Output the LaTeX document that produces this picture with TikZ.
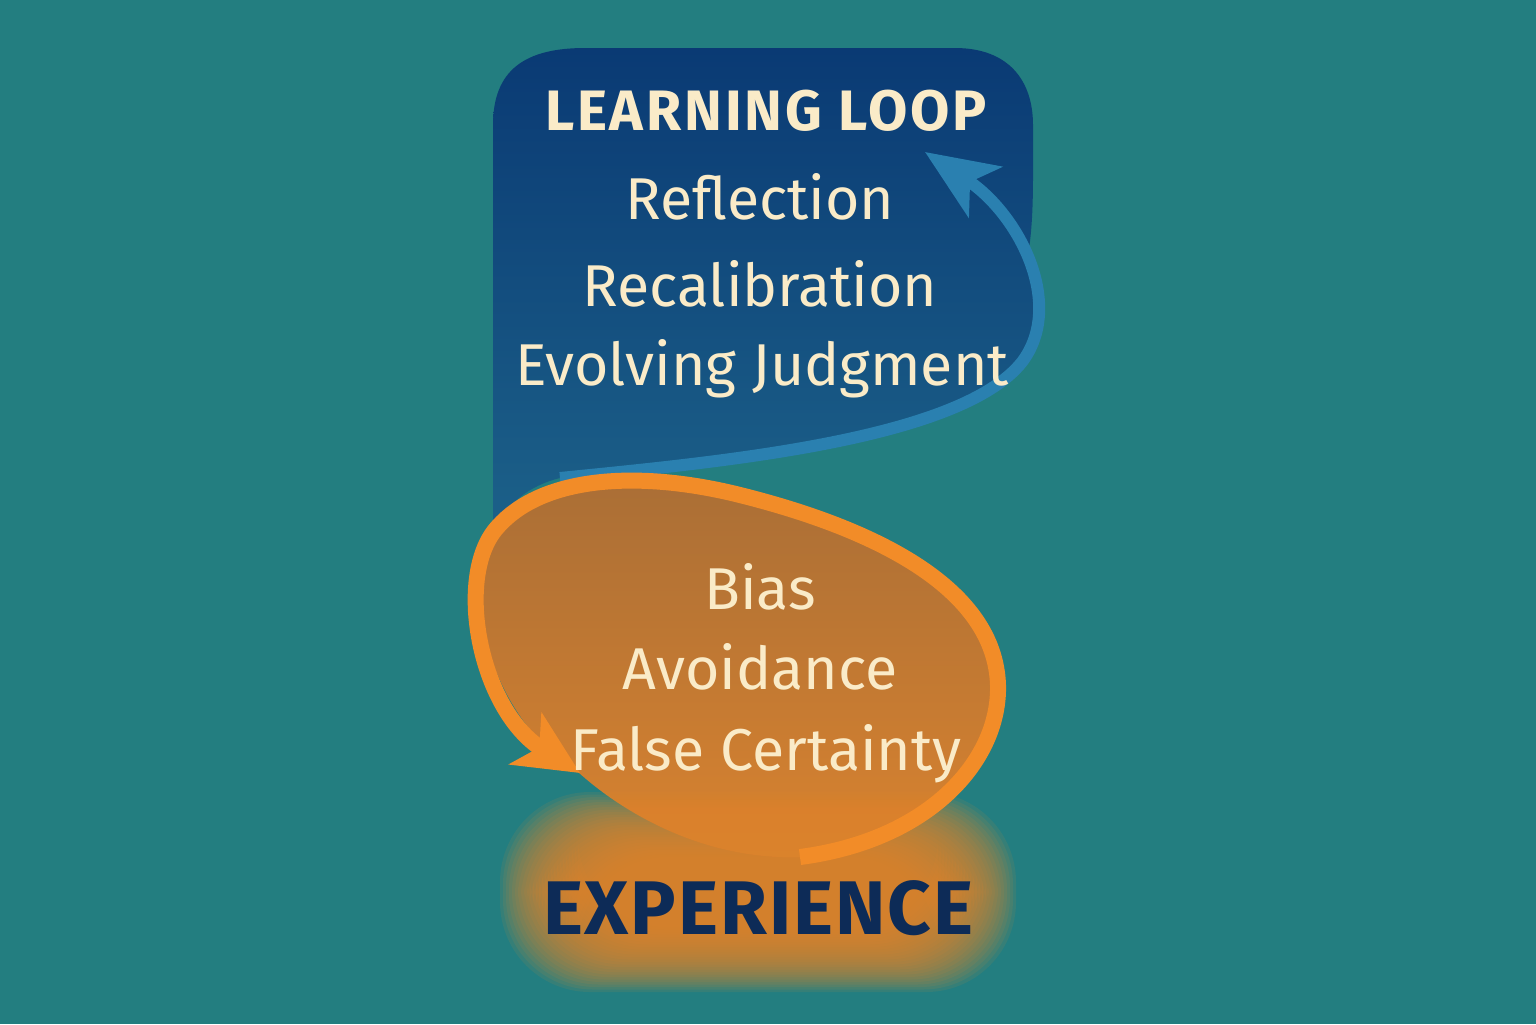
\documentclass[tikz,border=0pt]{standalone}
\usepackage{fontspec}
\setmainfont{Fira Sans}
\usetikzlibrary{arrows.meta}
\definecolor{bgteal}{HTML}{237E80}
\definecolor{bluetop}{HTML}{0A3A74}
\definecolor{bluebot}{HTML}{1C6189}
\definecolor{arrowblue}{HTML}{2A80B0}
\definecolor{loopor}{HTML}{F28C28}
\definecolor{blobtop}{HTML}{A96E36}
\definecolor{blobbot}{HTML}{D9832F}
\definecolor{glowc}{HTML}{E3892C}
\definecolor{cream}{HTML}{FAEBC8}
\definecolor{navy}{HTML}{0D2B57}
\tikzset{
  bluearrow/.style={draw=arrowblue, line width=6pt, -{Stealth[length=36pt,width=30pt,inset=9pt]}},
  orangearrow/.style={draw=loopor, line width=8pt, -{Stealth[length=32pt,width=30pt,inset=8pt]}},
  lbl/.style={text=cream, font=\fontsize{29.5}{32}\selectfont, anchor=base},
  title/.style={text=cream, font=\bfseries\fontsize{28.5}{32}\selectfont\addfontfeatures{LetterSpace=5}, anchor=base},
  exptext/.style={text=navy, font=\bfseries\fontsize{38}{40}\selectfont\addfontfeatures{LetterSpace=2.5}, anchor=base}
}
\begin{document}
\begin{tikzpicture}[x=0.5pt,y=-0.5pt]
\useasboundingbox (0,0) rectangle (1536,1024);
\fill[bgteal] (0,0) rectangle (1536,1024);
% blue panel
\shade[top color=bluetop, bottom color=bluebot]
  (493,530) -- (493,125) .. controls (493,70) and (525,48) .. (585,48)
  -- (955,48) .. controls (1008,48) and (1033,80) .. (1033,125)
  -- (1033,175) .. controls (1033,205) and (1032,232) .. (1028,255)
  .. controls (1040,285) and (1042,330) .. (1022,362)
  .. controls (960,440) and (720,462) .. (560,478)
  .. controls (530,485) and (505,505) .. (493,530) -- cycle;
% blue arrow
\draw[bluearrow] (560,478) .. controls (720,462) and (960,440) .. (1022,362)
  .. controls (1065,305) and (1020,215) .. (925,152);
% orange blob fill
\shade[top color=blobtop, bottom color=blobbot]
  (800,857) .. controls (930,840) and (1000,760) .. (998,685)
  .. controls (995,590) and (880,530) .. (740,495)
  .. controls (640,470) and (540,475) .. (495,530)
  .. controls (455,580) and (490,720) .. (578,772)
  .. controls (620,810) and (700,860) .. (800,857) -- cycle;
% glow
\foreach \i in {0,...,26} {
  \fill[glowc, opacity=0.1, rounded corners=45pt]
    ({500+\i*3},{792+\i*2.5}) rectangle ({1016-\i*3},{992-\i*2.5});
}
% orange loop
\draw[orangearrow] (800,857) .. controls (930,840) and (1000,760) .. (998,685)
  .. controls (995,590) and (880,530) .. (740,495)
  .. controls (640,470) and (540,475) .. (495,530)
  .. controls (455,580) and (480,710) .. (580,773);
% texts
\node[title] (t0) at (766,130) {LEARNING LOOP};
\node[lbl] (t1) at (760,219) {Reflection};
\node[lbl] (t2) at (760,306) {Recalibration};
\node[lbl] (t3) at (762,385) {Evolving Judgment};
\node[lbl] (b1) at (760,609) {Bias};
\node[lbl] (b2) at (760,689) {Avoidance};
\node[lbl] (b3) at (766,770) {False Certainty};
\node[exptext] (e) at (758,934) {EXPERIENCE};
\end{tikzpicture}
\end{document}
